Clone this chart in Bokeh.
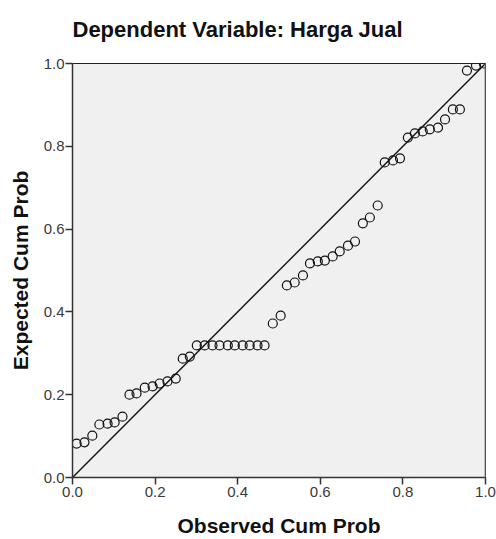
from bokeh.plotting import figure
from bokeh.embed import file_html
from bokeh.resources import INLINE
from bokeh.models import Range1d, FixedTicker, Span, Title

# Observed vs expected cumulative probabilities
observed = [0.010, 0.029, 0.048, 0.065, 0.085, 0.102, 0.121, 0.138, 0.155, 0.175,
            0.194, 0.211, 0.230, 0.250, 0.267, 0.284, 0.301, 0.320, 0.339, 0.356,
            0.376, 0.393, 0.412, 0.429, 0.448, 0.465, 0.485, 0.504, 0.519, 0.538,
            0.558, 0.575, 0.594, 0.611, 0.630, 0.647, 0.667, 0.684, 0.703, 0.720,
            0.739, 0.756, 0.776, 0.793, 0.812, 0.829, 0.848, 0.865, 0.885, 0.902,
            0.921, 0.938, 0.955, 0.977, 0.996]
expected = [0.082, 0.085, 0.101, 0.128, 0.130, 0.133, 0.147, 0.200, 0.203, 0.217,
            0.220, 0.227, 0.232, 0.239, 0.287, 0.292, 0.319, 0.319, 0.319, 0.319,
            0.319, 0.319, 0.319, 0.319, 0.319, 0.319, 0.372, 0.391, 0.464, 0.471,
            0.488, 0.517, 0.522, 0.524, 0.534, 0.546, 0.560, 0.570, 0.614, 0.628,
            0.657, 0.761, 0.766, 0.771, 0.821, 0.831, 0.836, 0.841, 0.845, 0.865,
            0.889, 0.889, 0.983, 0.995, 1.000]
ref_line = [0.0, 1.0]
ticks = [0.0, 0.2, 0.4, 0.6, 0.8, 1.0]
tick_labels = {0.0: "0.0", 0.2: "0.2", 0.4: "0.4", 0.6: "0.6", 0.8: "0.8", 1.0: "1.0"}

title_text = "Dependent Variable: Harga Jual"
x_label = "Observed Cum Prob"
y_label = "Expected Cum Prob"

FONT = "Liberation Sans"

p = figure(width=496, height=539, output_backend="svg", toolbar_location=None,
           x_range=Range1d(0, 1), y_range=Range1d(0, 1),
           min_border_left=72, min_border_right=11, min_border_top=63, min_border_bottom=62)

p.background_fill_color = "#F0F0F0"
p.border_fill_color = "white"
p.outline_line_color = "#222222"
p.outline_line_width = 1
p.xgrid.visible = False
p.ygrid.visible = False

for ax in (p.xaxis, p.yaxis):
    ax.ticker = FixedTicker(ticks=ticks)
    ax.major_label_overrides = tick_labels
    ax.minor_tick_line_color = None
    ax.major_tick_in = 0
    ax.major_tick_out = 7
    ax.major_tick_line_color = "#333333"
    ax.major_tick_line_width = 1.5
    ax.axis_line_color = "#333333"
    ax.axis_line_width = 1.5
    ax.major_label_text_font = FONT
    ax.major_label_text_font_size = "15px"
    ax.major_label_text_color = "#3a3a3a"
    ax.axis_label_text_font = FONT
    ax.axis_label_text_font_size = "21px"
    ax.axis_label_text_font_style = "bold"
    ax.axis_label_text_color = "#111111"

p.xaxis.axis_label = x_label
p.yaxis.axis_label = y_label
p.xaxis.major_label_standoff = 2
p.yaxis.major_label_standoff = 1
p.xaxis.axis_label_standoff = 14
p.yaxis.axis_label_standoff = 9

p.add_layout(Span(location=1.0, dimension="height", line_color="#888888", line_width=2))

# spacer between frame and title, then the title itself
spacer = Title(text=" ", text_font_size="1px", standoff=19)
p.add_layout(spacer, "above")
main_title = Title(text=title_text, align="left", offset=0, standoff=0,
                   text_font=FONT, text_font_size="22px", text_font_style="bold",
                   text_color="#111111")
p.add_layout(main_title, "above")

p.line(ref_line, ref_line, line_color="#111111", line_width=1.4)
p.scatter(observed, expected, marker="circle", size=9, fill_color=None,
          line_color="#111111", line_width=1.2)

open("out.html", "w").write(file_html(p, INLINE))
